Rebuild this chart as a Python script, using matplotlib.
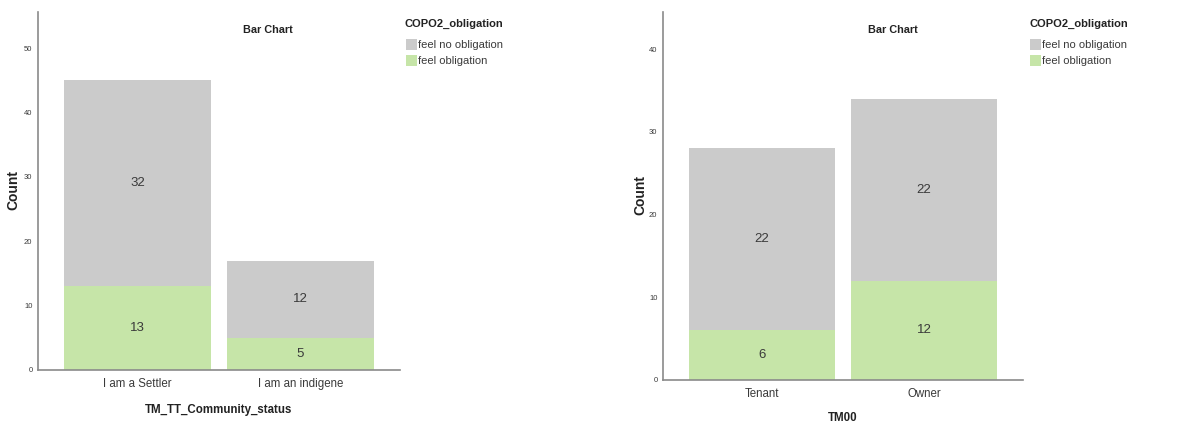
import matplotlib
matplotlib.use("Agg")
import matplotlib.pyplot as plt
from matplotlib.patches import Patch

plt.rcParams['font.family'] = ['Liberation Sans Narrow', 'Liberation Sans', 'DejaVu Sans']

# Data
status_categories = ["I am a Settler", "I am an indigene"]
status_obligation = [13, 5]
status_no_obligation = [32, 12]

tenure_categories = ["Tenant", "Owner"]
tenure_obligation = [6, 12]
tenure_no_obligation = [22, 22]

legend_labels = ["feel no obligation", "feel obligation"]
legend_title = "COPO2_obligation"

GRAY = "#cbcbcb"
GREEN = "#c6e5a8"
AXIS = "#8a8a8a"
TEXT = "#3a3a3a"

W, H = 1188, 426
fig = plt.figure(figsize=(W / 100, H / 100), dpi=100)


def px_axes(left, right, bottom, top):
    return fig.add_axes([left / W, 1 - bottom / H, (right - left) / W, (bottom - top) / H])


def draw(ax, cats, low, high, ymax, yticks, xlabel, title_x, ylabel_x, ylabel_y,
         xlabel_x, xlabel_y, legend_x):
    x = range(len(cats))
    ax.bar(x, low, width=0.9, color=GREEN, zorder=2)
    ax.bar(x, high, width=0.9, bottom=low, color=GRAY, zorder=2)
    for i, (a, b) in enumerate(zip(low, high)):
        ax.text(i, a / 2, str(a), ha="center", va="center", fontsize=9.5, color=TEXT)
        ax.text(i, a + b / 2, str(b), ha="center", va="center", fontsize=9.5, color=TEXT)
    ax.set_xlim(-0.61, 1.61)
    ax.set_ylim(0, ymax)
    ax.set_xticks(list(x))
    ax.set_xticklabels(cats, fontsize=8.3, color=TEXT)
    ax.set_yticks(yticks)
    ax.set_yticklabels([str(t) for t in yticks], fontsize=5.5, color=TEXT)
    ax.tick_params(length=0, pad=4)
    ax.tick_params(axis="x", pad=6)
    for s in ("top", "right"):
        ax.spines[s].set_visible(False)
    for s in ("left", "bottom"):
        ax.spines[s].set_color(AXIS)
        ax.spines[s].set_linewidth(1.2)
    fig.text(title_x / W, 1 - 30 / H, "Bar Chart", ha="center", va="center",
             fontsize=7.8, fontweight="bold", color="#222222")
    fig.text(ylabel_x / W, 1 - ylabel_y / H, "Count", rotation=90, ha="center", va="center",
             fontsize=10, fontweight="bold", color="#222222")
    fig.text(xlabel_x / W, 1 - xlabel_y / H, xlabel, ha="center", va="center",
             fontsize=8.3, fontweight="bold", color="#222222")
    # legend
    fig.text(legend_x / W, 1 - 24 / H, legend_title, ha="left", va="center",
             fontsize=8, fontweight="bold", color="#222222")
    handles = [Patch(facecolor=GRAY, edgecolor="none"), Patch(facecolor=GREEN, edgecolor="none")]
    fig.legend(handles, legend_labels, loc="upper left",
               bbox_to_anchor=(legend_x / W + 0.001, 1 - 39 / H), frameon=False,
               fontsize=8, handlelength=0.95, handleheight=1.1, handletextpad=0.15,
               labelspacing=0.45, borderaxespad=0, borderpad=0, labelcolor=TEXT)


ax1 = px_axes(38, 400, 370, 12)
draw(ax1, status_categories, status_obligation, status_no_obligation, 55.6,
     [0, 10, 20, 30, 40, 50], "TM_TT_Community_status",
     268, 13, 190, 219, 410, 405)

ax2 = px_axes(663, 1023, 380, 12)
draw(ax2, tenure_categories, tenure_obligation, tenure_no_obligation, 44.5,
     [0, 10, 20, 30, 40], "TM00",
     893, 640, 195, 843, 418, 1029)

fig.savefig("out.png", dpi=100)
